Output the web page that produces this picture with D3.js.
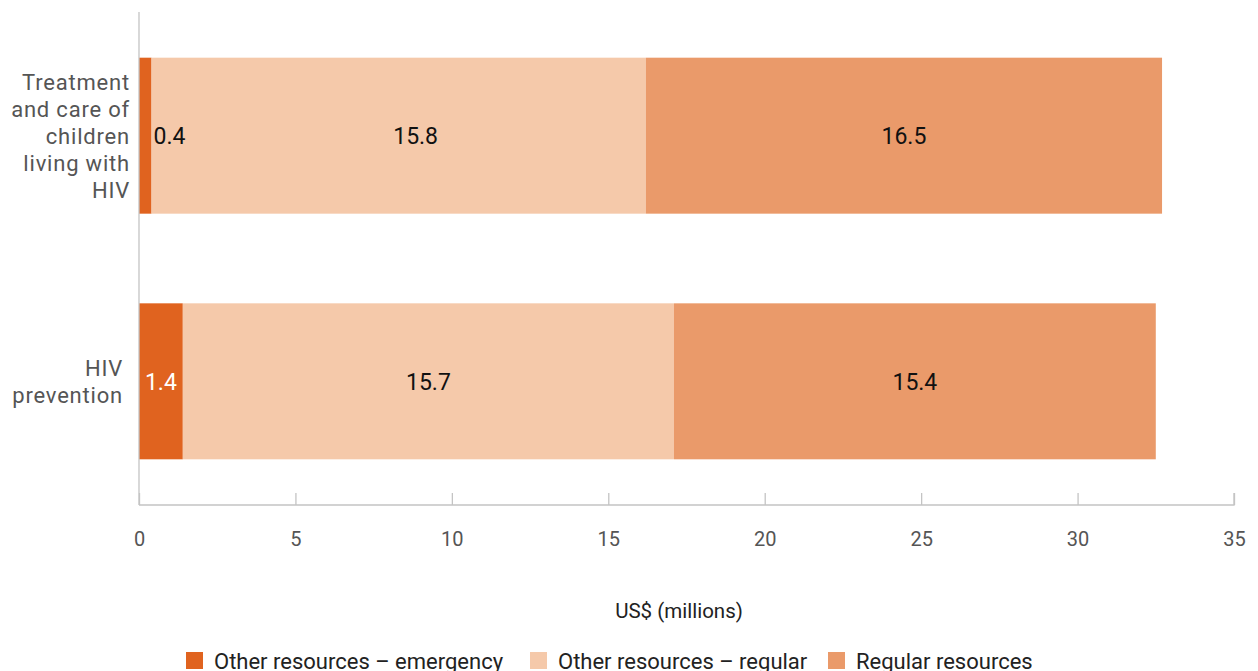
<!DOCTYPE html>
<html><head><meta charset="utf-8">
<script src="https://cdn.jsdelivr.net/npm/d3@7"></script>
<style>
html,body{margin:0;padding:0;background:#fff;}
svg{display:block;font-family:Roboto, "Liberation Sans", sans-serif;}
</style></head>
<body><svg id="chart" width="1258" height="671"></svg>
<script>
const categories = ["Treatment and care of children living with HIV", "HIV prevention"];
const categoryLines = [["Treatment", "and care of", "children", "living with", "HIV"], ["HIV", "prevention"]];
const seriesNames = ["Other resources – emergency", "Other resources – regular", "Regular resources"];
const emergency = [0.4, 1.4];
const otherRegular = [15.8, 15.7];
const regular = [16.5, 15.4];
const xTicks = [0, 5, 10, 15, 20, 25, 30, 35];
const colors = ["#E0631F", "#F5C9AA", "#EA9A6A"];

const svg = d3.select("#chart");
const x = d3.scaleLinear().domain([0, 35]).range([139, 1234]);
const y = d3.scaleBand().domain(categories).range([12, 505]).paddingInner(0.365).paddingOuter(0.186);

const stackData = categories.map((c, i) => ({cat: c, s0: emergency[i], s1: otherRegular[i], s2: regular[i]}));
const stack = d3.stack().keys(["s0", "s1", "s2"])(stackData);

// bars
const g = svg.append("g");
stack.forEach((layer, li) => {
  g.selectAll(null).data(layer).enter().append("rect")
    .attr("x", d => x(d[0]))
    .attr("y", d => y(d.data.cat))
    .attr("width", d => x(d[1]) - x(d[0]))
    .attr("height", y.bandwidth())
    .attr("fill", colors[li]);
});

// value labels (a label too wide for its segment sits just outside it; the next label centres in the remaining space)
categories.forEach((c, ci) => {
  let freeStart = null;
  stack.forEach((layer, li) => {
    const d = layer[ci];
    const x0 = x(d[0]), x1 = x(d[1]);
    const w = x1 - x0;
    const t = g.append("text")
      .attr("y", y(c) + y.bandwidth() / 2)
      .attr("dy", "0.36em")
      .attr("font-size", 23)
      .text(d3.format(".1f")(d[1] - d[0]));
    if (w < 20) {
      t.attr("x", x1 + 2).attr("text-anchor", "start").attr("fill", "#111");
      freeStart = x1 + 2 + t.node().getComputedTextLength();
    } else {
      const s = freeStart !== null ? freeStart : x0;
      t.attr("x", (s + x1) / 2).attr("text-anchor", "middle")
        .attr("fill", li === 0 ? "#fff" : "#111");
      freeStart = null;
    }
  });
});

// x axis
const xAxis = d3.axisBottom(x).tickValues(xTicks).tickSize(-12).tickPadding(27).tickFormat(d3.format("d"));
const ax = svg.append("g").attr("transform", "translate(0,505)").call(xAxis);
ax.select(".domain").attr("stroke", "#c4c4c4").attr("stroke-width", 1.3).attr("d", `M${x(0)},0H${x(35)}V-12`);
ax.selectAll(".tick line").attr("stroke", "#c4c4c4").attr("stroke-width", 1.3);
ax.selectAll(".tick text").attr("font-size", 20).attr("fill", "#555").attr("font-family", "Roboto, sans-serif");

// y axis line
svg.append("line").attr("x1", x(0)).attr("x2", x(0)).attr("y1", 12).attr("y2", 505)
  .attr("stroke", "#c4c4c4").attr("stroke-width", 1.3);

// category labels
const labelRight = [130, 123];
categories.forEach((c, i) => {
  const lines = categoryLines[i];
  const lh = 27;
  const cy = y(c) + y.bandwidth() / 2;
  const t = svg.append("text").attr("text-anchor", "end").attr("font-size", 22).attr("fill", "#555")
    .attr("letter-spacing", "0.8px");
  lines.forEach((ln, j) => {
    t.append("tspan").attr("x", labelRight[i])
      .attr("y", cy + (j - (lines.length - 1) / 2) * lh)
      .attr("dy", "0.36em").text(ln);
  });
});

// axis title
svg.append("text").attr("x", 679).attr("y", 611).attr("dy", "0.36em").attr("text-anchor", "middle")
  .attr("font-size", 20.5).attr("fill", "#222").text("US$ (millions)");

// legend
const legendX = [186, 530, 828];
const lg = svg.append("g");
seriesNames.forEach((n, i) => {
  lg.append("rect").attr("x", legendX[i]).attr("y", 652).attr("width", 17).attr("height", 17).attr("fill", colors[i]);
  lg.append("text").attr("x", legendX[i] + 28).attr("y", 669).attr("font-size", 22).attr("fill", "#222").text(n);
});
</script></body></html>
